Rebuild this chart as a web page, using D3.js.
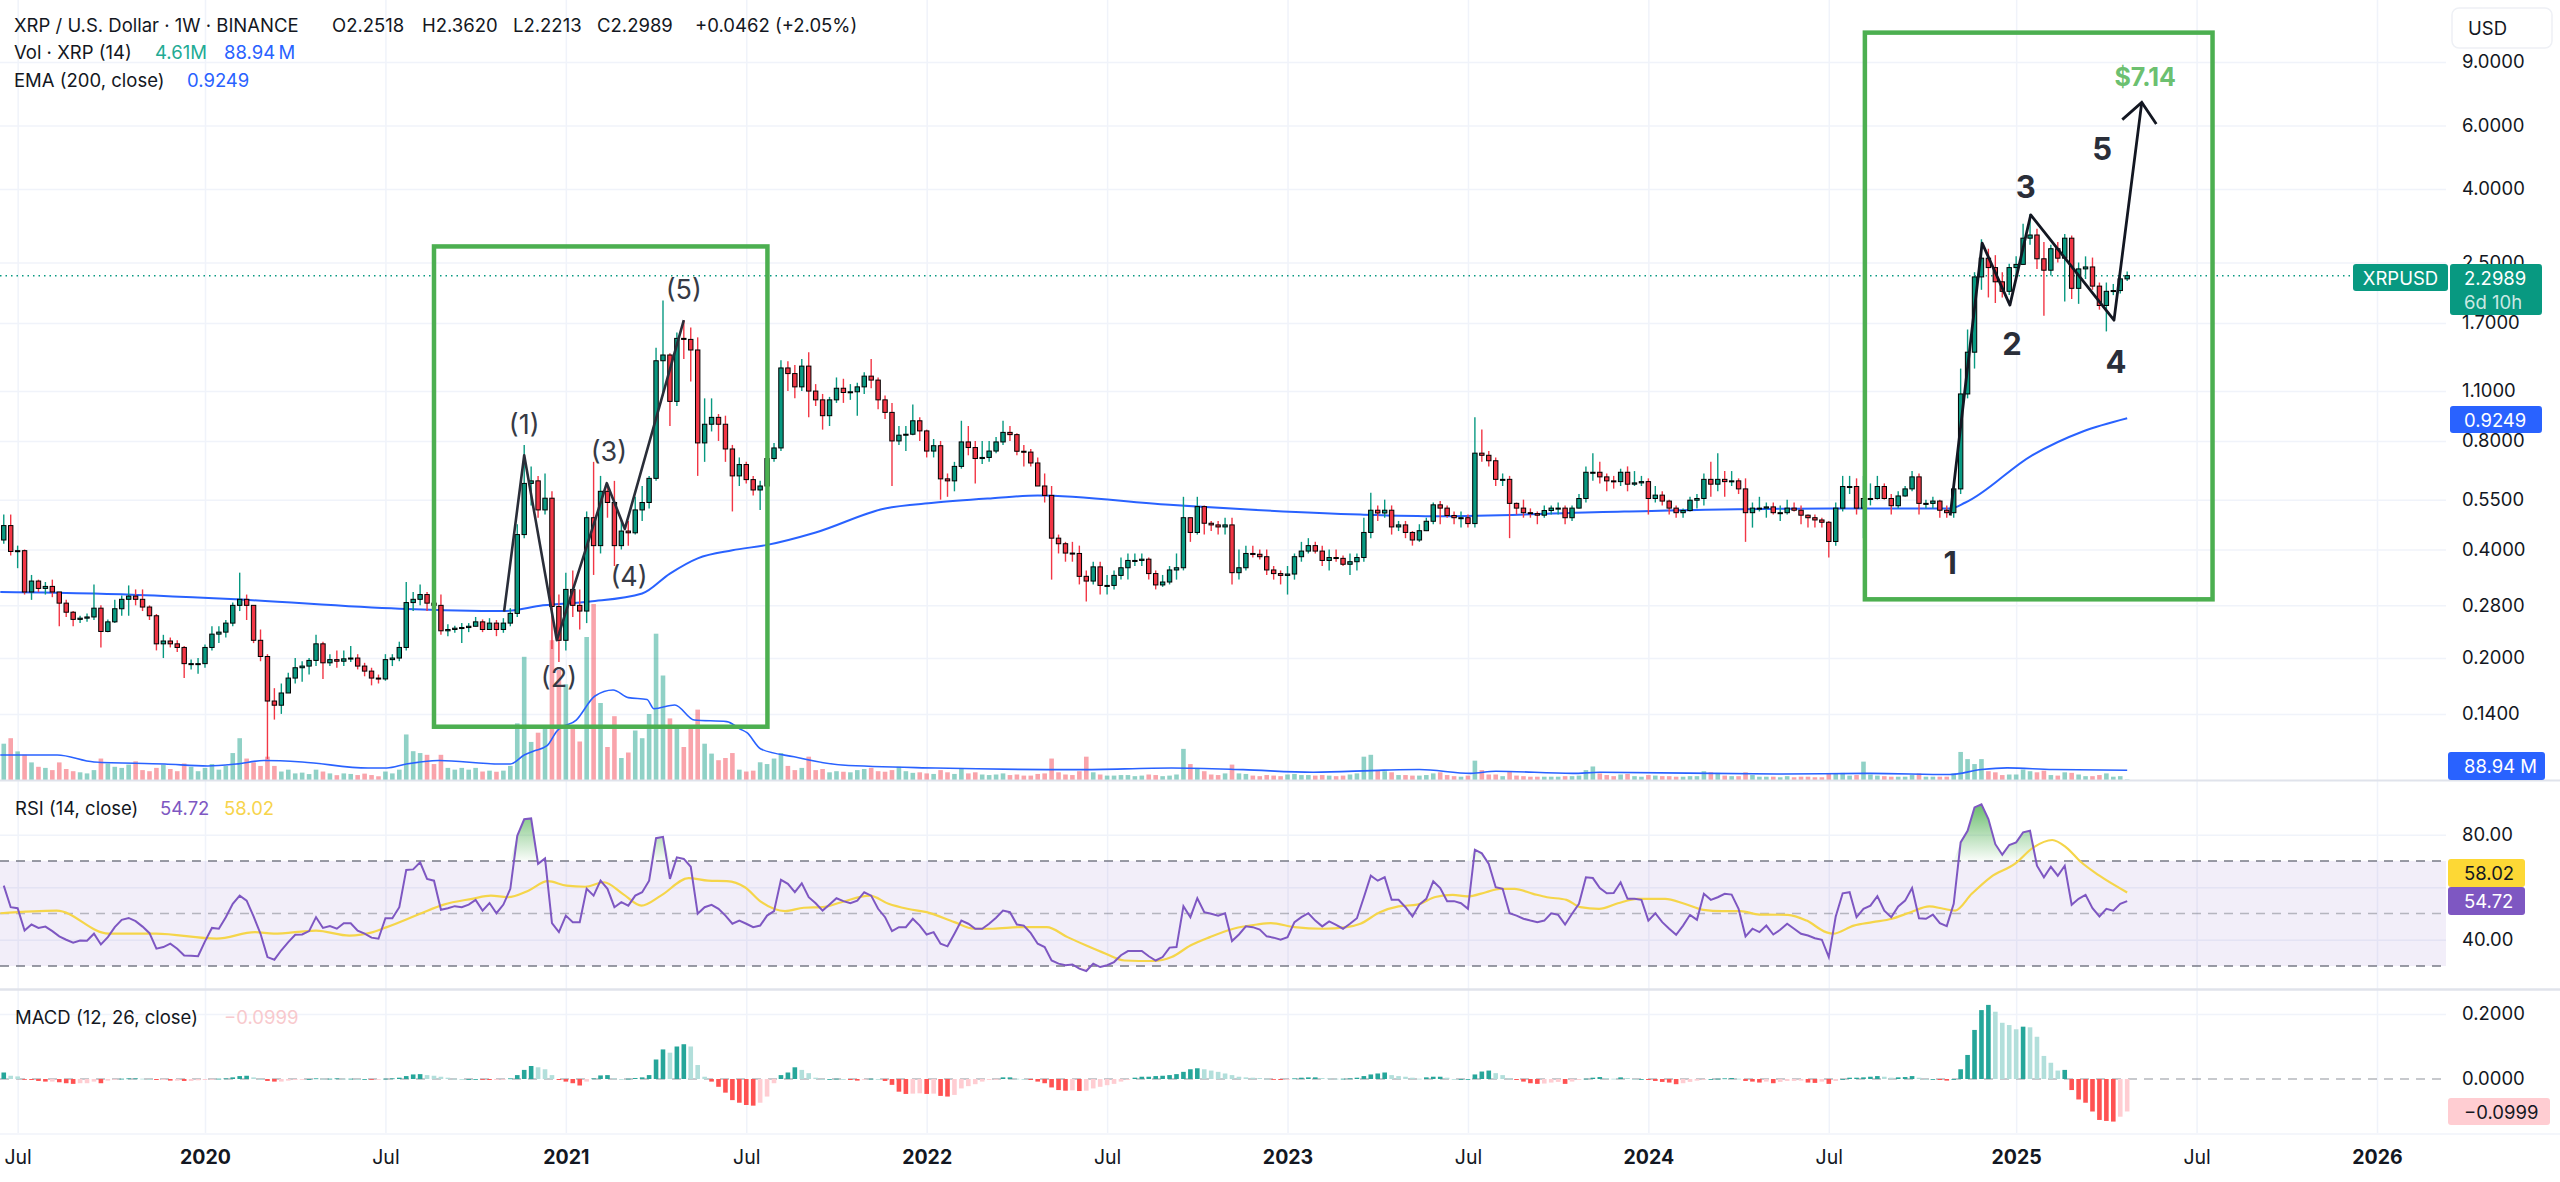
<!DOCTYPE html>
<html><head><meta charset="utf-8">
<script src="https://cdn.jsdelivr.net/npm/d3@7"></script>
<style>
html,body{margin:0;padding:0;background:#fff;}
svg{display:block;}
</style></head><body>
<svg id="chart" width="2560" height="1182"></svg>
<script>
// ---------------- DATA (weekly bars, first bar = week of 2019-06-17) ----------------
const FIRST = -29;            // week index relative to 2020-01-06
const OPEN0 = 0.425;          // open of first bar; later opens = previous close
const close = [
 0.466,0.395,0.397,0.305,0.327,0.312,0.316,0.305,0.284,0.268,0.256,0.258,0.260,0.275,0.237,0.252,0.274,0.291,0.297,0.291,0.277,0.262,0.219,0.223,0.219,0.214,0.193,0.193,0.193,
 0.214,0.233,0.236,0.250,0.280,0.291,0.280,0.224,0.202,0.152,0.148,0.160,0.176,0.188,0.190,0.197,0.219,0.194,0.198,0.196,0.199,0.200,0.190,0.184,0.176,0.175,0.198,0.200,0.214,0.285,0.291,0.300,0.284,0.280,0.238,0.240,0.242,0.243,0.245,0.252,0.240,0.250,0.240,0.250,0.266,0.440,0.610,0.620,0.515,0.555,0.278,0.224,
 0.310,0.280,0.270,0.490,0.410,0.580,0.540,0.410,0.450,0.445,0.515,0.540,0.630,1.335,1.385,1.030,1.540,1.530,1.430,0.790,0.890,0.930,0.890,0.760,0.640,0.688,0.625,0.585,0.600,0.715,0.765,1.275,1.230,1.130,1.290,1.100,1.040,0.940,1.040,1.120,1.090,1.095,1.130,1.210,1.180,1.040,0.960,0.800,0.830,0.835,0.910,0.853,
 0.750,0.776,0.628,0.620,0.680,0.795,0.767,0.715,0.720,0.750,0.795,0.845,0.833,0.749,0.745,0.695,0.600,0.565,0.430,0.415,0.391,0.390,0.337,0.327,0.358,0.318,0.318,0.339,0.356,0.373,0.373,0.376,0.343,0.319,0.325,0.351,0.356,0.490,0.446,0.526,0.473,0.468,0.462,0.468,0.345,0.356,0.390,0.388,0.382,0.351,0.343,0.339,
 0.342,0.382,0.396,0.410,0.396,0.373,0.380,0.378,0.364,0.370,0.380,0.446,0.514,0.505,0.514,0.462,0.468,0.446,0.425,0.451,0.479,0.532,0.521,0.497,0.490,0.490,0.472,0.740,0.730,0.705,0.626,0.626,0.537,0.521,0.506,0.503,0.498,0.513,0.521,0.521,0.490,0.521,0.554,0.655,0.655,0.636,0.620,0.617,0.655,0.607,0.612,0.617,
 0.554,0.566,0.545,0.521,0.506,0.513,0.548,0.554,0.626,0.607,0.626,0.617,0.620,0.589,0.506,0.521,0.521,0.525,0.506,0.506,0.521,0.514,0.498,0.490,0.483,0.476,0.421,0.521,0.598,0.598,0.521,0.554,0.554,0.598,0.554,0.529,0.563,0.589,0.636,0.537,0.537,0.545,0.514,0.506,0.589,1.080,1.410,2.280,2.570,2.420,2.210,2.080,2.420,
 2.470,2.920,2.980,2.560,2.380,2.730,2.570,2.920,2.120,2.400,2.430,2.150,1.900,2.080,2.090,2.2518,2.2989
];
const high = [
 0.500,0.500,0.410,0.400,0.340,0.330,0.325,0.330,0.305,0.290,0.270,0.262,0.266,0.320,0.280,0.256,0.290,0.298,0.318,0.310,0.310,0.280,0.265,0.232,0.228,0.224,0.216,0.198,0.200,
 0.218,0.245,0.245,0.255,0.285,0.345,0.300,0.280,0.240,0.205,0.165,0.170,0.182,0.200,0.196,0.200,0.232,0.222,0.205,0.210,0.210,0.216,0.205,0.194,0.188,0.180,0.205,0.205,0.222,0.325,0.305,0.320,0.305,0.290,0.300,0.248,0.246,0.250,0.250,0.260,0.256,0.258,0.255,0.258,0.275,0.470,0.780,0.680,0.640,0.650,0.580,0.300,
 0.345,0.350,0.310,0.510,0.700,0.640,0.610,0.620,0.480,0.480,0.560,0.600,0.640,1.450,1.960,1.400,1.600,1.730,1.650,1.550,1.050,1.050,0.950,0.940,0.780,0.720,0.700,0.640,0.620,0.780,0.790,1.340,1.330,1.300,1.350,1.410,1.150,1.080,1.060,1.200,1.190,1.150,1.160,1.240,1.350,1.200,1.070,1.020,0.880,0.880,1.010,0.930,
 0.860,0.810,0.800,0.650,0.700,0.910,0.880,0.800,0.800,0.800,0.820,0.910,0.880,0.840,0.780,0.760,0.720,0.650,0.600,0.440,0.420,0.420,0.410,0.350,0.370,0.370,0.340,0.350,0.380,0.390,0.390,0.390,0.380,0.350,0.340,0.360,0.390,0.560,0.490,0.560,0.530,0.480,0.480,0.490,0.490,0.400,0.410,0.410,0.400,0.400,0.360,0.350,
 0.360,0.390,0.420,0.430,0.420,0.410,0.400,0.400,0.385,0.390,0.390,0.490,0.575,0.530,0.550,0.530,0.480,0.480,0.450,0.470,0.490,0.540,0.545,0.530,0.510,0.510,0.500,0.930,0.860,0.750,0.720,0.650,0.640,0.540,0.550,0.520,0.510,0.530,0.530,0.540,0.530,0.530,0.570,0.680,0.740,0.700,0.650,0.640,0.670,0.680,0.660,0.640,
 0.630,0.600,0.580,0.550,0.530,0.520,0.560,0.570,0.650,0.700,0.740,0.660,0.660,0.630,0.630,0.540,0.560,0.540,0.540,0.530,0.550,0.540,0.530,0.500,0.500,0.490,0.480,0.540,0.640,0.640,0.630,0.640,0.610,0.640,0.610,0.570,0.580,0.600,0.660,0.650,0.550,0.560,0.550,0.530,0.620,1.270,1.630,2.350,2.900,2.730,2.620,2.350,2.480,
 2.600,3.200,3.400,3.100,2.850,2.800,2.850,3.000,2.970,2.500,2.600,2.580,2.200,2.200,2.180,2.360,2.362
];
const low = [
 0.415,0.385,0.355,0.300,0.290,0.305,0.300,0.295,0.245,0.260,0.245,0.250,0.252,0.255,0.214,0.236,0.250,0.262,0.262,0.280,0.270,0.255,0.210,0.200,0.214,0.208,0.176,0.186,0.181,
 0.188,0.210,0.220,0.228,0.245,0.270,0.255,0.220,0.196,0.105,0.135,0.140,0.165,0.170,0.172,0.180,0.190,0.175,0.190,0.188,0.190,0.195,0.186,0.178,0.168,0.170,0.173,0.190,0.196,0.210,0.270,0.280,0.270,0.258,0.232,0.230,0.235,0.220,0.236,0.245,0.236,0.240,0.230,0.235,0.245,0.260,0.430,0.530,0.490,0.500,0.212,0.195,
 0.210,0.260,0.240,0.250,0.340,0.390,0.490,0.360,0.400,0.410,0.440,0.480,0.520,0.620,1.070,0.880,1.000,1.350,1.170,0.640,0.700,0.850,0.800,0.700,0.510,0.600,0.610,0.565,0.515,0.590,0.700,0.750,1.100,1.050,1.100,0.930,1.000,0.860,0.880,1.020,1.020,1.040,0.940,1.080,1.120,0.980,0.920,0.600,0.780,0.750,0.830,0.800,
 0.720,0.720,0.550,0.560,0.580,0.670,0.730,0.610,0.690,0.700,0.740,0.780,0.800,0.730,0.680,0.680,0.600,0.540,0.330,0.390,0.370,0.370,0.320,0.287,0.320,0.300,0.300,0.310,0.330,0.330,0.360,0.360,0.330,0.310,0.315,0.320,0.330,0.350,0.420,0.440,0.440,0.450,0.440,0.440,0.320,0.330,0.350,0.380,0.375,0.340,0.330,0.320,
 0.300,0.330,0.370,0.390,0.390,0.360,0.350,0.370,0.360,0.340,0.350,0.370,0.430,0.480,0.490,0.440,0.450,0.430,0.410,0.420,0.450,0.470,0.470,0.490,0.470,0.460,0.460,0.460,0.700,0.680,0.600,0.600,0.430,0.500,0.490,0.490,0.470,0.490,0.500,0.500,0.470,0.480,0.520,0.540,0.620,0.610,0.580,0.590,0.600,0.580,0.600,0.600,
 0.500,0.540,0.530,0.500,0.490,0.490,0.510,0.520,0.530,0.560,0.580,0.560,0.600,0.570,0.420,0.460,0.510,0.490,0.500,0.480,0.500,0.510,0.470,0.460,0.460,0.460,0.380,0.410,0.510,0.570,0.500,0.430,0.530,0.550,0.550,0.500,0.520,0.560,0.580,0.500,0.520,0.520,0.490,0.490,0.490,0.570,1.050,1.270,2.100,2.000,1.930,2.000,2.030,
 2.250,2.460,2.800,2.400,1.780,2.300,2.500,1.950,1.980,1.920,2.250,2.100,1.850,1.610,2.030,2.050,2.2213
];
const volume = [ // millions of XRP
 330,380,260,230,160,120,110,90,160,100,80,70,60,90,195,150,120,110,140,170,90,80,110,140,100,80,150,120,80,
 110,145,94,128,245,380,195,160,128,212,128,77,94,60,67,54,94,77,60,44,60,55,45,58,45,34,77,60,94,414,262,245,229,145,229,110,94,110,94,110,77,85,75,85,128,515,1120,346,430,498,1271,1000,
 870,500,350,1300,1600,700,300,580,200,250,450,380,600,1330,950,560,480,300,500,640,330,240,180,200,245,94,77,85,161,145,195,245,128,90,110,212,90,100,70,80,75,70,90,100,110,80,75,90,120,80,65,70,
 60,55,90,70,55,100,60,70,50,45,50,60,45,50,40,40,55,60,195,70,50,45,80,212,70,50,40,40,45,45,35,40,50,45,35,40,50,283,145,110,80,50,45,60,140,60,55,40,35,45,40,35,
 50,55,45,45,40,45,40,35,40,50,60,212,229,90,80,70,45,45,40,40,45,60,70,45,35,30,40,176,90,50,50,35,80,40,35,30,30,30,30,30,35,35,40,90,123,60,45,35,50,55,35,30,
 45,40,35,35,30,30,35,35,80,70,65,40,35,35,70,45,30,30,30,25,35,25,30,30,25,25,55,60,65,40,45,167,50,40,35,30,30,30,45,60,30,30,30,30,60,255,190,145,190,80,70,45,50,
 50,95,80,70,85,45,40,70,65,50,35,35,45,60,30,35,4.61
];
const rsi = [
 60.6,52.4,52.0,43.5,45.8,44.5,45.0,43.3,41.3,40.0,38.9,39.7,39.6,42.3,38.2,41.0,44.8,47.6,48.3,47.1,45.0,42.5,36.6,37.2,38.5,36.6,34.0,33.9,33.7,
 39.4,44.5,44.2,48.6,53.7,56.8,54.9,48.9,42.3,33.4,32.4,36.0,39.1,41.9,42.0,43.3,48.6,44.5,45.2,44.2,46.3,46.3,43.5,42.3,40.8,40.4,48.2,48.2,52.4,66.6,66.8,69.5,63.2,62.5,51.4,52.0,52.8,52.4,53.4,55.2,51.1,54.0,50.1,53.4,59.4,79.6,85.9,86.2,68.9,71.0,46.3,42.9,
 49.2,46.7,46.7,59.4,56.8,62.5,59.4,52.4,54.3,53.0,56.8,58.1,62.5,78.7,79.2,63.2,71.4,70.8,67.8,49.9,52.4,53.3,51.8,49.2,46.1,47.3,46.1,44.8,45.4,49.2,50.9,62.8,61.3,58.1,61.5,56.2,53.9,51.1,53.4,55.8,54.7,53.9,54.9,58.1,56.8,51.8,48.6,43.3,44.8,44.8,48.0,45.4,
 42.0,42.9,38.5,37.5,42.3,47.3,46.1,44.2,44.2,46.1,48.4,51.1,50.5,45.8,45.4,42.5,38.5,37.2,32.1,30.9,30.3,30.6,29.0,28.1,30.9,29.6,30.3,31.5,34.1,35.7,35.7,35.7,33.7,32.1,33.4,37.0,37.2,52.8,48.6,55.8,50.5,49.9,49.2,50.1,39.5,42.0,45.1,44.8,43.9,41.3,40.8,40.0,
 41.0,46.7,48.6,50.1,47.3,45.1,47.0,45.7,44.2,46.1,48.2,56.2,64.4,62.5,63.8,55.2,55.2,52.4,48.9,53.4,55.6,62.3,59.7,54.7,54.7,53.9,51.8,74.3,72.9,68.9,60.0,59.4,50.1,49.2,48.0,47.3,46.7,47.3,50.1,49.5,45.8,49.9,53.7,63.8,63.5,59.7,57.7,57.8,61.9,55.6,55.6,55.2,
 47.3,50.1,46.7,44.2,41.9,45.4,49.5,47.6,57.5,55.2,56.2,57.5,57.2,51.8,41.3,44.2,42.9,45.4,42.0,43.8,46.1,44.2,42.3,41.6,40.6,40.0,33.4,48.9,57.7,58.1,48.6,51.8,53.0,56.6,51.1,48.6,52.7,54.9,59.7,48.2,48.0,49.6,46.3,45.2,53.7,77.1,81.5,90.4,91.6,86.0,76.4,72.4,76.1,
 77.1,80.9,81.5,68.2,63.8,67.8,64.4,68.2,53.3,55.6,57.1,52.0,48.9,51.8,51.1,53.7,54.72
];
const macdHist = [
 0.020,0.010,0.008,-0.001,-0.003,-0.006,-0.008,-0.008,-0.010,-0.013,-0.015,-0.013,-0.013,-0.008,-0.013,-0.005,-0.001,0.001,0.002,0.002,0.001,0.000,-0.003,-0.003,-0.005,-0.005,-0.006,-0.006,-0.004,
 -0.003,-0.001,0.001,0.002,0.005,0.009,0.010,0.005,0.000,-0.006,-0.008,-0.008,-0.005,-0.003,-0.002,0.000,0.002,0.001,0.001,0.002,0.001,0.001,0.000,0.000,-0.001,-0.001,0.001,0.002,0.004,0.009,0.014,0.015,0.012,0.010,0.007,0.004,0.001,0.000,0.000,0.000,-0.002,-0.003,-0.003,-0.001,0.002,0.012,0.028,0.040,0.036,0.030,0.012,-0.003,
 -0.008,-0.013,-0.020,-0.008,0.002,0.011,0.012,0.002,0.000,0.001,0.003,0.005,0.012,0.060,0.091,0.081,0.100,0.107,0.100,0.043,0.007,-0.008,-0.024,-0.042,-0.065,-0.073,-0.080,-0.082,-0.073,-0.054,-0.013,0.012,0.020,0.036,0.028,0.018,0.004,0.000,0.000,0.001,0.000,-0.003,-0.005,-0.001,0.001,0.000,-0.006,-0.018,-0.039,-0.046,-0.045,-0.044,
 -0.046,-0.045,-0.052,-0.054,-0.049,-0.029,-0.022,-0.016,-0.008,-0.003,-0.001,0.005,0.005,0.001,0.000,-0.003,-0.008,-0.013,-0.026,-0.034,-0.036,-0.035,-0.037,-0.036,-0.029,-0.024,-0.019,-0.015,-0.008,-0.001,0.004,0.007,0.007,0.009,0.010,0.012,0.015,0.022,0.030,0.033,0.030,0.026,0.022,0.017,0.012,0.007,0.005,0.004,0.003,0.001,-0.001,-0.003,
 -0.001,0.002,0.004,0.005,0.005,0.003,0.002,0.001,0.001,0.002,0.004,0.009,0.014,0.017,0.020,0.012,0.009,0.007,0.004,0.001,0.005,0.007,0.007,0.004,0.000,0.000,0.000,0.014,0.023,0.026,0.018,0.012,0.002,-0.003,-0.008,-0.013,-0.015,-0.014,-0.011,-0.009,-0.015,-0.008,-0.003,0.001,0.004,0.006,0.003,0.001,0.005,0.003,0.000,0.000,
 -0.003,-0.006,-0.009,-0.011,-0.016,-0.013,-0.009,-0.005,-0.002,0.000,0.001,0.002,0.003,0.001,-0.006,-0.008,-0.011,-0.008,-0.013,-0.009,-0.006,-0.006,-0.005,-0.011,-0.012,-0.008,-0.015,-0.006,0.000,0.004,0.004,0.005,0.007,0.009,0.007,0.004,0.005,0.006,0.009,0.004,0.000,0.000,-0.003,-0.005,0.000,0.030,0.074,0.151,0.212,0.228,0.207,0.173,0.166,
 0.153,0.161,0.159,0.130,0.071,0.050,0.026,0.028,-0.034,-0.063,-0.073,-0.100,-0.126,-0.129,-0.131,-0.116,-0.0999
];
// smooth indicator lines: [week index, value]
const emaPoints = [[-29.5,0.305],[-16,0.302],[4.5,0.291],[28,0.274],[43,0.270],[48.7,0.280],[55.5,0.287],[63,0.302],[67,0.343],[71,0.378],[76,0.398],[81,0.412],[88,0.446],[98,0.520],[105,0.539],[113.5,0.555],[120,0.565],[139,0.532],[166.5,0.500],[178,0.495],[204.5,0.510],[234,0.520],[251.5,0.520],[253.7,0.540],[263.3,0.730],[270.6,0.850],[277,0.9249]];
const volMaPoints = [[-29.5,227],[-21.3,227],[-16,164],[-5.8,145],[0.4,127],[4.5,145],[8.5,177],[14,164],[23.5,109],[26.2,109],[29,145],[33.7,177],[42.5,145],[44,145],[46,227],[47.3,262],[49.3,312],[50.7,444],[53.5,545],[56.2,764],[58.8,818],[61,749],[63.7,732],[64.7,648],[67.7,682],[70.5,545],[75.2,531],[77.1,464],[78.1,430],[80.1,282],[84.9,211],[91.8,136],[105.3,109],[125.8,94],[139.3,109],[149.6,94],[159.7,70],[169.9,90],[175,95],[182.4,60],[186,80],[197.1,60],[201,70],[226.5,55],[240,60],[251.4,50],[256,95],[259.7,110],[266.3,95],[277,88.94]];
const rsiMaPoints = [[-29.5,50.1],[-21.4,51.1],[-13.9,42.3],[-7.1,42.3],[1.7,40.4],[7.2,42.9],[9.9,42.3],[16,43.5],[20.8,41.6],[24.2,42.9],[26.2,44.8],[31,49.9],[34.4,53.4],[38.5,55.6],[41.2,56.8],[43.6,56.2],[46.6,58.7],[49.4,62.3],[52.1,60.6],[54.8,60.2],[57.5,61.9],[60.2,57.5],[62.9,53.0],[65.7,56.8],[69.7,63.5],[72.5,62.5],[75.2,62.3],[77.8,60.0],[80.2,54.3],[83.6,50.9],[86.3,52.2],[89,52.4],[91.7,54.3],[95.8,56.8],[98.5,53.7],[101.2,51.8],[104,50.5],[108,46.7],[110.8,44.2],[113.5,44.2],[117.5,44.8],[121.3,44.8],[124.3,41.0],[127,37.8],[129.8,34.7],[132.5,32.1],[136.6,31.9],[139.3,33.4],[142,37.8],[144.8,41.0],[148.2,44.2],[151.6,45.8],[153.6,46.3],[157,44.8],[161.1,44.2],[164.5,44.8],[166.5,46.1],[169.3,50.5],[172,52.7],[174.7,53.4],[177.3,56.3],[179.8,57.1],[181.9,56.5],[184.6,58.1],[186.6,59.4],[188.7,59.4],[191.4,57.5],[193.4,56.2],[196.2,55.2],[198.2,52.4],[200.9,51.8],[203.6,53.9],[206.4,55.6],[210.4,55.6],[213.2,53.7],[215.9,51.4],[218.6,50.9],[221.3,50.9],[224,49.6],[228.1,49.5],[230.8,47.3],[233.6,42.9],[234.6,42.3],[237.6,45.4],[240.3,46.7],[243.1,48.0],[245.8,50.5],[248.5,52.7],[250.5,51.8],[252.2,51.1],[254.6,57.5],[257.3,63.8],[260.8,68.9],[263.5,75.2],[266.2,78.0],[268.2,75.2],[270.3,69.7],[273,64.4],[277,58.02]];
// annotations (week index, price)
const boxes = [{i0:33.0,i1:81.05,top:2.77,bottom:0.129},{i0:239.2,i1:289.3,top:10.85,bottom:0.291}];
const waveA = [[43.1,0.269],[46.0,0.73],[50.7,0.224],[57.9,0.611],[60.5,0.456],[69.0,1.73]];
const waveALabels = [{t:"(1)",i:46.0,p:0.891},{t:"(2)",i:51.0,p:0.177},{t:"(3)",i:58.2,p:0.75},{t:"(4)",i:61.1,p:0.3356},{t:"(5)",i:69.0,p:2.11}];
const waveB = [[251.5,0.497],[256.1,2.83],[260.1,1.905],[263.1,3.39],[275.1,1.73],[279.1,6.95]];
const waveBLabels = [{t:"1",i:251.5,p:0.369},{t:"2",i:260.4,p:1.486},{t:"3",i:262.4,p:4.05},{t:"4",i:275.4,p:1.33},{t:"5",i:273.4,p:5.18}];
const targetLabel = {t:"$7.14",i:279.6,p:8.17};
// ticks
const priceTicks = [9,6,4,2.5,1.7,1.1,0.8,0.55,0.4,0.28,0.2,0.14];
const rsiGridTicks = [40,60,80];
const rsiLabelTicks = [40,80];
const macdTicks = [0,0.2];
const timeTicks = [["2019-07-01","Jul"],["2020-01-06","2020"],["2020-07-06","Jul"],["2021-01-04","2021"],["2021-07-05","Jul"],["2022-01-03","2022"],["2022-07-04","Jul"],["2023-01-02","2023"],["2023-07-03","Jul"],["2024-01-01","2024"],["2024-07-01","Jul"],["2025-01-06","2025"],["2025-07-07","Jul"],["2026-01-05","2026"]];
const lastPrice = 2.2989;

// ---------------- LAYOUT ----------------
const W=2560,H=1182,PR=2446;
const MAIN_B=780, RSI_T=781, RSI_B=989, MACD_T=990, MACD_B=1133;
const FONT='Inter, "Noto Sans", Roboto, "DejaVu Sans", sans-serif';
const UP='#089981', DOWN='#f23645', TXT='#131722';
const BASE=Date.UTC(2020,0,6), WEEK=7*864e5;
const dateOf=i=>new Date(BASE+i*WEEK);
const x=d3.scaleUtc().domain([new Date(Date.UTC(2020,0,6)),new Date(Date.UTC(2026,0,5))]).range([205,2377]);
const xi=i=>x(dateOf(i));
const y=d3.scaleLog().domain([0.1,10]).range([766.6,45.4]);
const yv=d3.scaleLinear().domain([0,2000]).range([MAIN_B,560]);
const yr=d3.scaleLinear().domain([30,70]).range([966,861]);
const ym=d3.scaleLinear().domain([0,0.2]).range([1079,1014]);

const bars=close.map((c,k)=>({i:FIRST+k,o:k?close[k-1]:OPEN0,c,h:high[k],l:low[k],v:volume[k],r:rsi[k],m:macdHist[k]}));

const svg=d3.select('#chart').attr('font-family',FONT);
svg.append('rect').attr('width',W).attr('height',H).attr('fill','#fff');
const defs=svg.append('defs');
defs.append('clipPath').attr('id','cMain').append('rect').attr('x',0).attr('y',0).attr('width',PR).attr('height',MAIN_B);
defs.append('clipPath').attr('id','cRsi').append('rect').attr('x',0).attr('y',RSI_T).attr('width',PR).attr('height',RSI_B-RSI_T);
defs.append('clipPath').attr('id','cMacd').append('rect').attr('x',0).attr('y',MACD_T).attr('width',PR).attr('height',MACD_B-MACD_T);
const gOB=defs.append('linearGradient').attr('id','gOB').attr('gradientUnits','userSpaceOnUse').attr('x1',0).attr('x2',0).attr('y1',yr(92)).attr('y2',yr(70));
gOB.append('stop').attr('offset',0).attr('stop-color','#4caf50').attr('stop-opacity',0.85);
gOB.append('stop').attr('offset',1).attr('stop-color','#4caf50').attr('stop-opacity',0.03);
const gOS=defs.append('linearGradient').attr('id','gOS').attr('gradientUnits','userSpaceOnUse').attr('x1',0).attr('x2',0).attr('y1',yr(30)).attr('y2',yr(20));
gOS.append('stop').attr('offset',0).attr('stop-color','#f23645').attr('stop-opacity',0.03);
gOS.append('stop').attr('offset',1).attr('stop-color','#f23645').attr('stop-opacity',0.7);

// ---------- grids ----------
const tDates=timeTicks.map(t=>new Date(t[0]+'T00:00:00Z'));
const gridStyle=g=>{g.select('.domain').remove();g.selectAll('line').attr('stroke','#f0f3fa').attr('stroke-width',1.5);};
svg.append('g').call(d3.axisBottom(x).tickValues(tDates).tickSize(MACD_B).tickFormat('')).call(gridStyle);
svg.append('g').call(d3.axisRight(y).tickValues(priceTicks).tickSize(PR).tickFormat('')).call(gridStyle);
svg.append('g').call(d3.axisRight(yr).tickValues(rsiGridTicks).tickSize(PR).tickFormat('')).call(gridStyle);
svg.append('g').call(d3.axisRight(ym).tickValues([0.2]).tickSize(PR).tickFormat('')).call(gridStyle);

// ---------- main pane ----------
const gM=svg.append('g').attr('clip-path','url(#cMain)');
gM.append('g').selectAll('rect').data(bars).join('rect')
  .attr('x',d=>xi(d.i)-2.3).attr('width',4.6)
  .attr('y',d=>yv(d.v)).attr('height',d=>MAIN_B-yv(d.v))
  .attr('fill',d=>d.c>=d.o?'rgba(8,153,129,0.45)':'rgba(242,54,69,0.45)');
gM.append('path').datum(volMaPoints).attr('fill','none').attr('stroke','#2962ff').attr('stroke-width',1.6)
  .attr('d',d3.line().x(p=>xi(p[0])).y(p=>yv(p[1])).curve(d3.curveMonotoneX));
gM.append('path').datum(emaPoints).attr('fill','none').attr('stroke','#2962ff').attr('stroke-width',2)
  .attr('d',d3.line().x(p=>xi(p[0])).y(p=>y(p[1])).curve(d3.curveMonotoneX));
// price line
gM.append('line').attr('x1',0).attr('x2',2353).attr('y1',y(lastPrice)).attr('y2',y(lastPrice))
  .attr('stroke',UP).attr('stroke-width',1.5).attr('stroke-dasharray','1.5,4');
// candles
const gCd=gM.append('g');
gCd.selectAll('line').data(bars).join('line')
  .attr('x1',d=>xi(d.i)).attr('x2',d=>xi(d.i))
  .attr('y1',d=>y(Math.max(d.h,d.o,d.c))).attr('y2',d=>y(Math.min(d.l,d.o,d.c)))
  .attr('stroke',d=>d.c>=d.o?UP:DOWN).attr('stroke-width',1.4);
gCd.selectAll('rect').data(bars).join('rect')
  .attr('x',d=>xi(d.i)-2.2).attr('width',4.4)
  .attr('y',d=>y(Math.max(d.o,d.c))).attr('height',d=>Math.max(1,Math.abs(y(d.o)-y(d.c))))
  .attr('fill',d=>d.c>=d.o?UP:DOWN).attr('stroke','#000').attr('stroke-width',1);
// boxes
gM.append('g').selectAll('rect').data(boxes).join('rect')
  .attr('x',b=>xi(b.i0)).attr('y',b=>y(b.top)).attr('width',b=>xi(b.i1)-xi(b.i0)).attr('height',b=>y(b.bottom)-y(b.top))
  .attr('fill','none').attr('stroke','#4caf50').attr('stroke-width',4.5);
// waves
const wl=d3.line().x(p=>xi(p[0])).y(p=>y(p[1]));
gM.append('path').datum(waveA).attr('d',wl).attr('fill','none').attr('stroke','#2a2e39').attr('stroke-width',2.6).attr('stroke-linejoin','round');
gM.append('path').datum(waveB).attr('d',wl).attr('fill','none').attr('stroke','#131722').attr('stroke-width',2.8).attr('stroke-linejoin','round');
{ const a=waveB[waveB.length-2], b=waveB[waveB.length-1];
  const x1=xi(a[0]),y1=y(a[1]),x2=xi(b[0]),y2=y(b[1]);
  const ang=Math.atan2(y2-y1,x2-x1), L=26, sp=0.72;
  const p1=[x2-L*Math.cos(ang-sp),y2-L*Math.sin(ang-sp)], p2=[x2-L*Math.cos(ang+sp),y2-L*Math.sin(ang+sp)];
  gM.append('path').attr('d',`M${p1[0]},${p1[1]}L${x2},${y2}L${p2[0]},${p2[1]}`).attr('fill','none').attr('stroke','#131722').attr('stroke-width',2.8).attr('stroke-linejoin','miter');
}
gM.append('g').selectAll('text').data(waveALabels).join('text')
  .attr('x',d=>xi(d.i)).attr('y',d=>y(d.p)).attr('text-anchor','middle').attr('dominant-baseline','central')
  .attr('font-size',27).attr('fill','#363a45').text(d=>d.t);
gM.append('g').selectAll('text').data(waveBLabels).join('text')
  .attr('x',d=>xi(d.i)).attr('y',d=>y(d.p)).attr('text-anchor','middle').attr('dominant-baseline','central')
  .attr('font-size',31).attr('font-weight',700).attr('fill','#2a2e39').text(d=>d.t);
gM.append('text').attr('x',xi(targetLabel.i)).attr('y',y(targetLabel.p)).attr('text-anchor','middle').attr('dominant-baseline','central')
  .attr('font-size',25).attr('font-weight',700).attr('fill','#6cc070').text(targetLabel.t);

// ---------- RSI pane ----------
const gR=svg.append('g').attr('clip-path','url(#cRsi)');
gR.append('rect').attr('x',0).attr('width',PR).attr('y',yr(70)).attr('height',yr(30)-yr(70)).attr('fill','rgba(126,87,194,0.1)');
[[70,'#787b86'],[50,'rgba(120,123,134,0.5)'],[30,'#787b86']].forEach(([v,c])=>{
  gR.append('line').attr('x1',0).attr('x2',PR).attr('y1',yr(v)).attr('y2',yr(v)).attr('stroke',c).attr('stroke-width',1.5).attr('stroke-dasharray','9,7');
});
gR.append('path').datum(bars).attr('fill','url(#gOB)')
  .attr('d',d3.area().x(d=>xi(d.i)).y0(yr(70)).y1(d=>yr(Math.max(70,d.r))));
gR.append('path').datum(bars).attr('fill','url(#gOS)')
  .attr('d',d3.area().x(d=>xi(d.i)).y0(yr(30)).y1(d=>yr(Math.min(30,d.r))));
gR.append('path').datum(rsiMaPoints).attr('fill','none').attr('stroke','#f5d54a').attr('stroke-width',2.2)
  .attr('d',d3.line().x(p=>xi(p[0])).y(p=>yr(p[1])).curve(d3.curveMonotoneX));
gR.append('path').datum(bars).attr('fill','none').attr('stroke','#7e57c2').attr('stroke-width',2)
  .attr('d',d3.line().x(d=>xi(d.i)).y(d=>yr(d.r)));

// ---------- MACD pane ----------
const gH=svg.append('g').attr('clip-path','url(#cMacd)');
gH.append('line').attr('x1',0).attr('x2',PR).attr('y1',ym(0)).attr('y2',ym(0)).attr('stroke','rgba(120,123,134,0.55)').attr('stroke-width',1.5).attr('stroke-dasharray','9,7');
gH.selectAll('rect').data(bars).join('rect')
  .attr('x',d=>xi(d.i)-2.3).attr('width',4.6)
  .attr('y',d=>Math.min(ym(0),ym(d.m))).attr('height',d=>Math.max(0.8,Math.abs(ym(d.m)-ym(0))))
  .attr('fill',(d,k)=>{const p=k?bars[k-1].m:d.m; return d.m>=0?(d.m>=p?'#26a69a':'#b2dfdb'):(d.m<p?'#ff5252':'#ffcdd2');});

// ---------- pane separators ----------
[[MAIN_B+0.5,'#e0e3eb',2],[RSI_B+0.5,'#e0e3eb',2.5],[MACD_B+1,'#f0f3fa',1.5]].forEach(([yy,c,w])=>{
  svg.append('line').attr('x1',0).attr('x2',W).attr('y1',yy).attr('y2',yy).attr('stroke',c).attr('stroke-width',w);
});

// ---------- axes ----------
const axStyle=(g,fs)=>{g.select('.domain').remove();g.selectAll('text').attr('font-size',fs).attr('fill',TXT).attr('font-family',FONT);};
svg.append('g').attr('transform',`translate(${PR},0)`).call(d3.axisRight(y).tickValues(priceTicks).tickFormat(d3.format('.4f')).tickSize(0).tickPadding(16)).call(g=>axStyle(g,18.5));
svg.append('g').attr('transform',`translate(${PR},0)`).call(d3.axisRight(yr).tickValues(rsiLabelTicks).tickFormat(d3.format('.2f')).tickSize(0).tickPadding(16)).call(g=>axStyle(g,18.5));
svg.append('g').attr('transform',`translate(${PR},0)`).call(d3.axisRight(ym).tickValues(macdTicks).tickFormat(d3.format('.4f')).tickSize(0).tickPadding(16)).call(g=>axStyle(g,18.5));
const gT=svg.append('g').attr('transform',`translate(0,${MACD_B})`).call(d3.axisBottom(x).tickValues(tDates).tickFormat((d,k)=>timeTicks[k][1]).tickSize(0).tickPadding(17));
axStyle(gT,19.5);
gT.selectAll('text').attr('font-weight',(d,k)=>/^\d/.test(timeTicks[k][1])?700:400);

// ---------- right-side tags ----------
function tag(x0,y0,w,h,fill,lines,tc,anchor){
  const g=svg.append('g');
  g.append('rect').attr('x',x0).attr('y',y0).attr('width',w).attr('height',h).attr('rx',3).attr('fill',fill);
  lines.forEach((t,k)=>{
    g.append('text').attr('x',anchor==='middle'?x0+w/2:2464).attr('y',y0+13.5+k*24).attr('dominant-baseline','central')
     .attr('text-anchor',anchor||'start').attr('font-size',18.5).attr('fill',k?'rgba(255,255,255,0.8)':tc).text(t);
  });
}
tag(2353,264,95,27,UP,['XRPUSD'],'#fff','middle');
tag(2450,264,92,51,UP,[d3.format('.4f')(lastPrice),'6d 10h'],'#fff');
tag(2450,406,92,27,'#2962ff',[d3.format('.4f')(emaPoints[emaPoints.length-1][1])],'#fff');
tag(2448,752,97,28,'#2962ff',['88.94 M'],'#fff');
tag(2448,859,77,28,'#fdd835',[d3.format('.2f')(rsiMaPoints[rsiMaPoints.length-1][1])],TXT);
tag(2448,887,77,28,'#7e57c2',[d3.format('.2f')(rsi[rsi.length-1])],'#fff');
tag(2448,1098,102,27,'#ffcdd2',['\u2212'+d3.format('.4f')(-macdHist[macdHist.length-1])],TXT);
// USD
svg.append('rect').attr('x',2452).attr('y',8).attr('width',100).attr('height',40).attr('rx',7).attr('fill','#fff').attr('stroke','#eef0f5').attr('stroke-width',1.5);
svg.append('text').attr('x',2468).attr('y',28).attr('dominant-baseline','central').attr('font-size',18.5).attr('fill',TXT).text('USD');

// ---------- legends ----------
function legend(yc,parts){
  const t=svg.append('text').attr('y',yc).attr('dominant-baseline','central').attr('font-size',18.5);
  parts.forEach(([s,xx,c])=>t.append('tspan').attr('x',xx).attr('fill',c||TXT).text(s));
}
legend(25,[['XRP / U.S. Dollar \u00b7 1W \u00b7 BINANCE',14],['O2.2518',332],['H2.3620',422],['L2.2213',513],['C2.2989',597],['+0.0462 (+2.05%)',695]]);
legend(52,[['Vol \u00b7 XRP (14)',14],['4.61M',155,'#22ab94'],['88.94\u2009M',224,'#2962ff']]);
legend(80,[['EMA (200, close)',14],['0.9249',187,'#2962ff']]);
legend(808,[['RSI (14, close)',15],['54.72',160,'#7e57c2'],['58.02',224,'#f7d44c']]);
legend(1017,[['MACD (12, 26, close)',15],['\u22120.0999',224,'#f8c9cd']]);
</script></body></html>
